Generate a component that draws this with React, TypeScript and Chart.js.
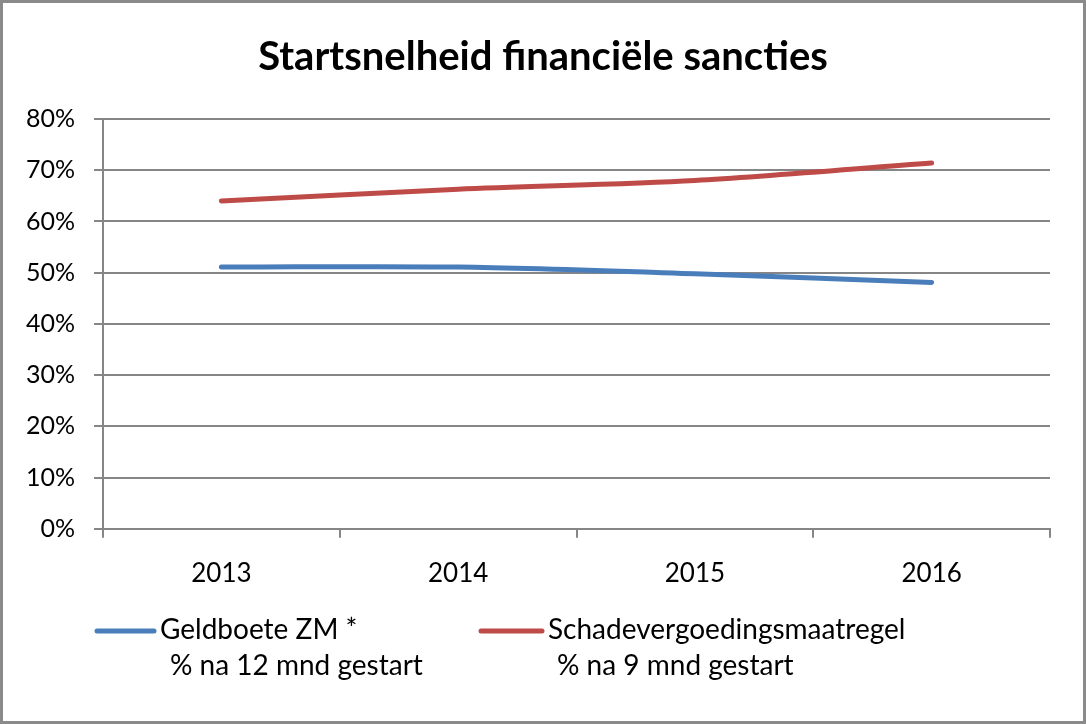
import React, { useEffect, useRef } from "react";
import { Chart, registerables } from "chart.js";

Chart.register(...registerables);

const title = "Startsnelheid financiële sancties";
const years = ["2013", "2014", "2015", "2016"];
const geldboete = [51.1, 51.1, 49.8, 48.1];
const schade = [64.0, 66.3, 68.0, 71.4];
const seriesNames = ["Geldboete ZM *", "Schadevergoedingsmaatregel"];
const seriesSub = ["% na 12 mnd gestart", "% na 9 mnd gestart"];
const colors = ["#4A7EBB", "#BE4B48"];
const yTicks = { min: 0, max: 80, step: 10 };

const FONT = "Lato, 'Open Sans', sans-serif";

const frameTitleLegend = {
  id: "frameTitleLegend",
  afterDraw(chart: any) {
    const ctx = chart.ctx;
    ctx.save();
    ctx.strokeStyle = "#8a8a8a";
    ctx.lineWidth = 3;
    ctx.strokeRect(1.5, 1.5, chart.width - 3, chart.height - 3);

    ctx.fillStyle = "#000";
    ctx.font = `bold 40px ${FONT}`;
    ctx.textAlign = "center";
    ctx.textBaseline = "middle";
    ctx.fillText(title, chart.width / 2, 57);

    const items = [
      { lx: 97, tx: 160, sx: 170 },
      { lx: 481, tx: 548, sx: 557 },
    ];
    chart.data.datasets.forEach((ds: any, i: number) => {
      const it = items[i];
      ctx.strokeStyle = ds.borderColor;
      ctx.lineWidth = 5;
      ctx.lineCap = "round";
      ctx.beginPath();
      ctx.moveTo(it.lx, 631);
      ctx.lineTo(it.tx - 6, 631);
      ctx.stroke();
      ctx.fillStyle = "#000";
      ctx.font = `28px ${FONT}`;
      ctx.textBaseline = "middle";
      ctx.textAlign = "left";
      ctx.fillText(seriesNames[i], it.tx, 630);
      ctx.fillText(seriesSub[i], it.sx, 666);
    });
    ctx.restore();
  },
};

export default function App() {
  const ref = useRef<HTMLCanvasElement | null>(null);
  useEffect(() => {
    document.body.style.margin = "0";
    const chart = new Chart(ref.current as HTMLCanvasElement, {
      type: "line",
      data: {
        labels: years,
        datasets: [
          {
            label: seriesNames[0],
            data: geldboete,
            borderColor: colors[0],
            borderWidth: 5,
            pointRadius: 0,
            tension: 0.3,
            borderCapStyle: "round",
          },
          {
            label: seriesNames[1],
            data: schade,
            borderColor: colors[1],
            borderWidth: 5,
            pointRadius: 0,
            tension: 0.3,
            borderCapStyle: "round",
          },
        ],
      },
      options: {
        animation: false,
        responsive: false,
        layout: { padding: { left: 0, right: 36, top: 119, bottom: 115 } },
        plugins: {
          legend: { display: false },
          tooltip: { enabled: false },
          title: { display: false },
        },
        scales: {
          x: {
            offset: true,
            grid: {
              offset: true,
              drawOnChartArea: false,
              color: "#868686",
              tickLength: 9,
              lineWidth: 2,
            },
            border: { color: "#868686", width: 2 },
            ticks: {
              color: "#000",
              font: { family: FONT, size: 26 },
              padding: 20,
            },
          },
          y: {
            min: yTicks.min,
            max: yTicks.max,
            afterFit: (s: any) => {
              s.width = 103;
            },
            grid: { color: "#868686", lineWidth: 2, tickLength: 9 },
            border: { color: "#868686", width: 2 },
            ticks: {
              stepSize: yTicks.step,
              color: "#000",
              font: { family: FONT, size: 25 },
              padding: 19,
              callback: (v: any) => v + "%",
            },
          },
        },
      },
      plugins: [frameTitleLegend],
    });
    return () => chart.destroy();
  }, []);
  return <canvas ref={ref} width={1086} height={724} style={{ display: "block" }} />;
}
